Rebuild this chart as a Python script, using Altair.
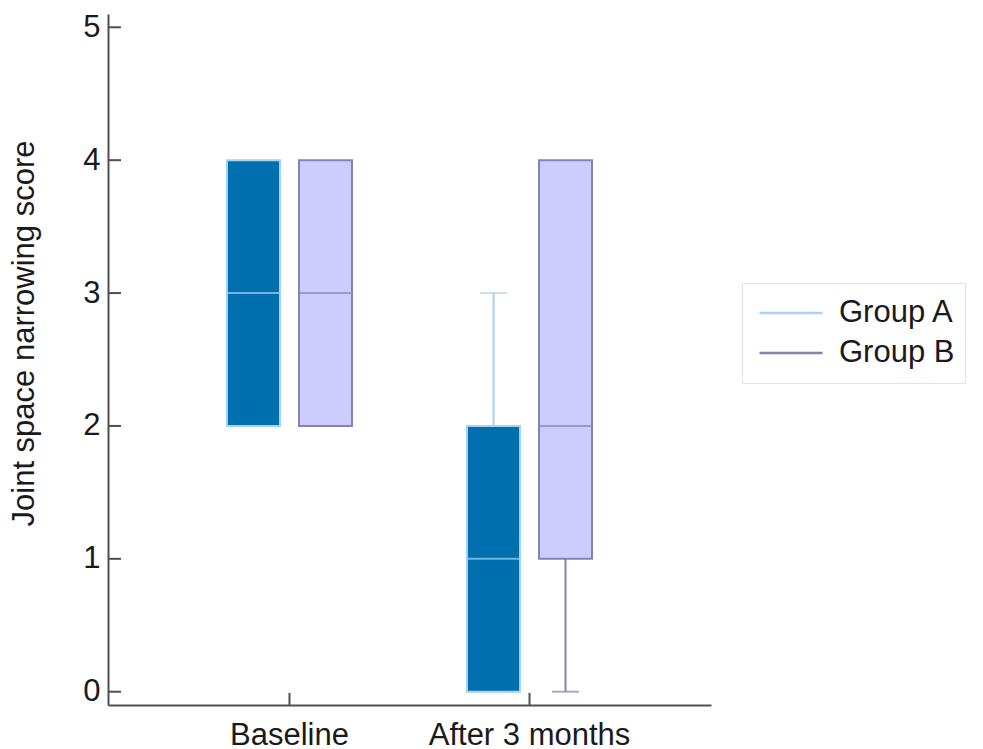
import altair as alt
import pandas as pd

# Summary statistics of the joint space narrowing score per group and visit
timepoints = ["Baseline", "Baseline", "After 3 months", "After 3 months"]
groups = ["Group A", "Group B", "Group A", "Group B"]
mins = [2, 2, 0, 0]
q1s = [2, 2, 0, 1]
medians = [3, 3, 1, 2]
q3s = [4, 4, 2, 4]
maxs = [4, 4, 3, 4]

visit_order = ["Baseline", "After 3 months"]
group_order = ["Group A", "Group B"]
y_ticks = [0, 1, 2, 3, 4, 5]

fill_colors = ["#006fad", "#ccccff"]
line_colors = ["#a6d2f7", "#8383b3"]
axis_color = "#505050"
font = "Liberation Sans"
font_size = 31

stats = pd.DataFrame({
    "visit": timepoints, "group": groups, "min": mins, "q1": q1s,
    "median": medians, "q3": q3s, "max": maxs,
})
ticks = pd.DataFrame({"v": y_ticks})
visits = pd.DataFrame({"visit": visit_order})

x_scale = alt.Scale(domain=visit_order, paddingInner=0, paddingOuter=0.256)
x_enc = alt.X("visit:N", scale=x_scale, sort=visit_order,
              axis=alt.Axis(title=None, labelAngle=0, tickSize=0, labelPadding=15,
                            labelLimit=400, domainColor=axis_color, domainWidth=2))
xo_enc = alt.XOffset("group:N", sort=group_order,
                     scale=alt.Scale(domain=group_order, paddingInner=0, paddingOuter=0.667))
y_scale = alt.Scale(domain=[-0.1, 5.1], nice=False, zero=False)
y_axis = alt.Axis(title="Joint space narrowing score", values=y_ticks, format="d",
                  tickSize=0, grid=False, labelPadding=8,
                  domainColor=axis_color, domainWidth=2,
                  titleAngle=270, titleX=-84, titleY=319, titleAlign="center",
                  titleBaseline="middle", titleFontWeight="normal")
stroke_scale = alt.Scale(domain=group_order, range=line_colors)
fill_scale = alt.Scale(domain=group_order, range=fill_colors)
group_legend = alt.Legend(title=None, symbolType="stroke")
stroke_enc = alt.Stroke("group:N", scale=stroke_scale, legend=group_legend)

base = alt.Chart(stats)

# Upper whiskers (only where the maximum lies above Q3)
upper = base.transform_filter("datum.max > datum.q3").mark_rule(strokeWidth=2).encode(
    x=x_enc, xOffset=xo_enc,
    y=alt.Y("q3:Q", scale=y_scale, axis=y_axis), y2="max:Q",
    stroke=stroke_enc,
)
upper_cap = base.transform_filter("datum.max > datum.q3").mark_tick(
    size=27, thickness=2).encode(
    x=x_enc, xOffset=xo_enc, y=alt.Y("max:Q", scale=y_scale),
    color=alt.Color("group:N", scale=stroke_scale, legend=None),
)
# Lower whiskers (only where the minimum lies below Q1)
lower = base.transform_filter("datum.min < datum.q1").mark_rule(strokeWidth=2).encode(
    x=x_enc, xOffset=xo_enc,
    y=alt.Y("min:Q", scale=y_scale), y2="q1:Q",
    stroke=stroke_enc,
)
lower_cap = base.transform_filter("datum.min < datum.q1").mark_tick(
    size=27, thickness=2).encode(
    x=x_enc, xOffset=xo_enc, y=alt.Y("min:Q", scale=y_scale),
    color=alt.Color("group:N", scale=stroke_scale, legend=None),
)

# Interquartile boxes
boxes = base.mark_bar(size=53, strokeWidth=2).encode(
    x=x_enc, xOffset=xo_enc,
    y=alt.Y("q1:Q", scale=y_scale), y2="q3:Q",
    fill=alt.Fill("group:N", scale=fill_scale, legend=None),
    stroke=stroke_enc,
)

# Median lines
medians_layer = base.mark_tick(size=53, thickness=2).encode(
    x=x_enc, xOffset=xo_enc, y=alt.Y("median:Q", scale=y_scale),
    color=alt.Color("group:N", scale=stroke_scale, legend=None),
)

# Inward-pointing axis ticks
y_tick_marks = alt.Chart(ticks).mark_rule(color=axis_color, strokeWidth=2).encode(
    y=alt.Y("v:Q", scale=y_scale), x=alt.value(0), x2=alt.value(13),
)
x_tick_marks = alt.Chart(visits).mark_rule(color=axis_color, strokeWidth=2).encode(
    x=alt.X("visit:N", scale=x_scale, sort=visit_order),
    y=alt.value(679), y2=alt.value(691),
)

chart = alt.layer(
    upper, lower, boxes, upper_cap, lower_cap, medians_layer, y_tick_marks, x_tick_marks
).properties(
    width=603, height=691,
    autosize=alt.AutoSizeParams(type="none"),
    padding={"left": 108, "top": 14, "right": 272, "bottom": 44},
).configure_view(
    stroke=None
).configure_axis(
    labelFont=font, titleFont=font, labelFontSize=font_size, titleFontSize=font_size,
    labelColor="#1a1a1a", titleColor="#1a1a1a",
).configure_legend(
    orient="none", legendX=634, legendY=269, padding=10,
    strokeColor="#e3e3e3", fillColor="white",
    labelFont=font, labelFontSize=font_size, labelColor="#1a1a1a", labelOffset=15,
    symbolSize=3969, symbolStrokeWidth=2.5, symbolOffset=6,
    clipHeight=40, rowPadding=0,
)

chart.save("out.html", embed_options={"renderer": "svg", "actions": False})
